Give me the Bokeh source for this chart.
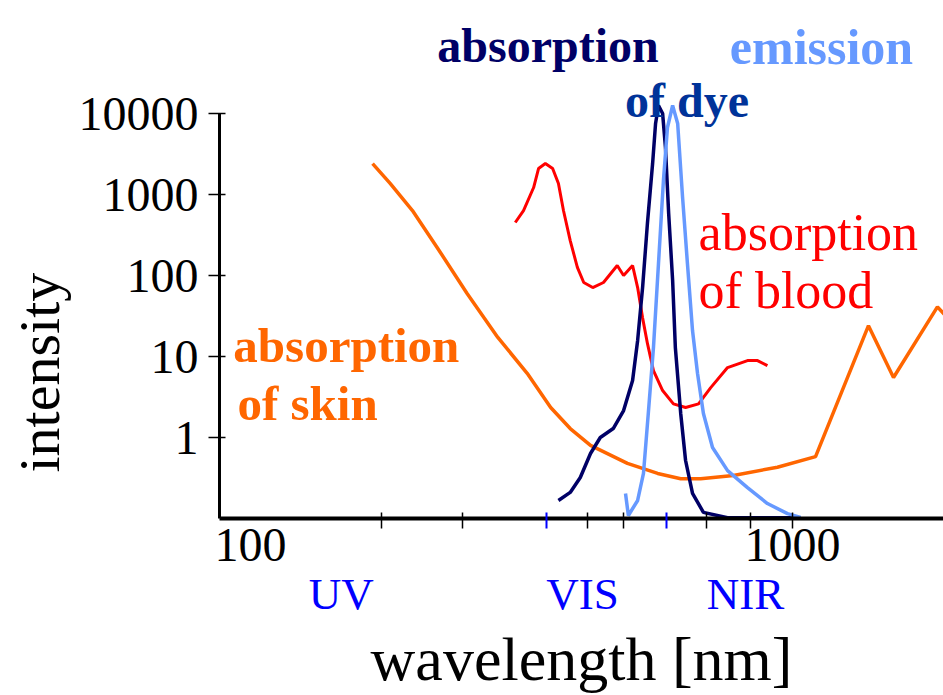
from bokeh.core.properties import value
from bokeh.embed import file_html
from bokeh.models import FixedTicker, LogAxis, Range1d, Title
from bokeh.plotting import figure
from bokeh.resources import INLINE

# ---- spectra (wavelength in nm, intensity on a log scale) ----
skin_wl = [168, 181, 199, 221, 251, 286, 324, 358, 389, 424, 496, 564, 622,
           677, 778, 938, 1103, 1381, 1536, 1851, 1950]
skin_abs = [2400, 1370, 634, 222, 60, 17.2, 6.2, 2.35, 1.29, 0.80, 0.48, 0.36,
            0.31, 0.31, 0.34, 0.43, 0.58, 24, 5.5, 41, 28]

blood_wl = [308, 319, 333, 340, 350, 361, 370, 378, 389, 401, 412, 428, 448,
            475, 488, 507, 518, 529, 540, 554, 576, 603, 635, 671, 706, 759,
            826, 862, 899]
blood_abs = [451, 634, 1220, 2094, 2413, 2094, 1367, 634, 270, 126, 82, 71, 82,
             133, 100, 133, 71, 30, 14.5, 6.7, 3.8, 2.6, 2.35, 2.6, 4.1, 7.3,
             8.9, 8.9, 7.7]

dye_abs_wl = [370, 389, 406, 424, 442, 467, 488, 507, 518, 529, 540, 552, 559,
              566, 576, 583, 591, 601, 608, 622, 635, 654, 685, 759, 1035]
dye_abs = [0.167, 0.21, 0.321, 0.634, 1.0, 1.29, 2.15, 5.06, 15.8, 71, 439,
           2413, 7530, 12550, 10000, 3800, 582, 87, 12.9, 1.98, 0.52, 0.204,
           0.119, 0.102, 0.102]

dye_em_wl = [492, 498, 518, 531, 542, 554, 566, 578, 588, 601, 614, 627, 640,
             654, 668, 685, 712, 759, 826, 899, 979, 1035]
dye_em = [0.204, 0.109, 0.167, 0.36, 1.98, 12.9, 141, 1489, 6720, 12550, 7530,
          918, 141, 20.9, 6.2, 1.98, 0.753, 0.39, 0.24, 0.153, 0.115, 0.103]

# ---- axis ticks ----
x_tick_values = [100, 1000]
x_tick_labels = ["100", "1000"]
x_minor_marks = [174.5, 246, 419, 488, 694, 837, 1000]
x_band_marks = [352, 586]          # edges of the visible band
y_tick_values = [1, 10, 100, 1000, 10000]
y_tick_labels = ["1", "10", "100", "1000", "10000"]

band_names = ["UV", "VIS", "NIR"]
band_centers = [147, 410, 819]

SERIF = "Liberation Serif"
ORANGE = "#FF6600"
RED = "#FF0000"
NAVY = "#000066"
DYE_BLUE = "#003399"
LIGHT_BLUE = "#6699FF"
BAND_BLUE = "#0000FF"

p = figure(width=943, height=695,
           x_axis_type="log", y_axis_type="log",
           x_range=Range1d(87.68, 1899.4), y_range=Range1d(0.1, 248400),
           output_backend="svg", toolbar_location=None,
           min_border_left=219, min_border_right=0,
           min_border_top=0, min_border_bottom=177)
p.outline_line_color = None
p.grid.grid_line_color = None
p.background_fill_color = "white"
p.border_fill_color = "white"

# ---- curves ----
p.line(skin_wl, skin_abs, line_color=ORANGE, line_width=3.5)
p.line(blood_wl, blood_abs, line_color=RED, line_width=3)
p.line(dye_abs_wl, dye_abs, line_color=NAVY, line_width=3.5)
p.line(dye_em_wl, dye_em, line_color=LIGHT_BLUE, line_width=3.5)

# ---- curve captions ----
def caption(x, y, text, color, size, bold=True, align="left"):
    p.text(x=[x], y=[y], text=[text], text_color=color,
           text_font=value(SERIF), text_font_size=size,
           text_font_style="bold" if bold else "normal",
           text_align=align, text_baseline="alphabetic")

caption(354, 69100, "absorption", NAVY, "48px", align="center")
caption(639, 14470, "of dye", DYE_BLUE, "48px", align="center")
caption(1131, 67100, "emission", LIGHT_BLUE, "50px", align="center")
caption(93, 13.7, "absorption", ORANGE, "49px")
caption(94.6, 2.63, "of skin", ORANGE, "49px")
caption(671, 340, "absorption", RED, "52px", bold=False)
caption(671, 65.3, "of blood", RED, "52px", bold=False)

# ---- x axis: line with tick marks ----
xa = p.xaxis[0]
xa.ticker = FixedTicker(ticks=x_band_marks, minor_ticks=x_minor_marks)
xa.major_label_overrides = {v: "" for v in x_band_marks}
xa.major_label_text_font_size = "1px"
xa.major_label_standoff = 0
xa.axis_line_width = 4
xa.axis_line_color = "black"
xa.major_tick_line_color = BAND_BLUE
xa.major_tick_line_width = 2
xa.major_tick_in = 6
xa.major_tick_out = 10
xa.minor_tick_line_color = "black"
xa.minor_tick_line_width = 1.5
xa.minor_tick_in = 6
xa.minor_tick_out = 10

def label_axis(ticks, labels, color, size, standoff, **kw):
    return LogAxis(ticker=FixedTicker(ticks=ticks, minor_ticks=[]),
                   major_label_overrides=dict(zip(ticks, labels)),
                   axis_line_color=None, major_tick_line_color=None,
                   minor_tick_line_color=None,
                   major_tick_in=0, major_tick_out=0,
                   minor_tick_in=0, minor_tick_out=0,
                   major_label_standoff=standoff,
                   major_label_text_font=SERIF, major_label_text_font_size=size,
                   major_label_text_color=color, **kw)

# ---- x axis: decade labels ----
p.add_layout(label_axis(x_tick_values, x_tick_labels, "black", "48px", 0), "below")

# ---- x axis: spectral bands and title ----
p.add_layout(label_axis(band_centers, band_names, BAND_BLUE, "45px", 5,
                        axis_label="wavelength [nm]", axis_label_text_font=SERIF,
                        axis_label_text_font_size="62px",
                        axis_label_text_font_style="normal",
                        axis_label_text_color="black", axis_label_standoff=3),
             "below")

# ---- y axis ----
ya = p.yaxis[0]
ya.ticker = FixedTicker(ticks=y_tick_values, minor_ticks=[])
ya.major_label_overrides = dict(zip(y_tick_values, y_tick_labels))
ya.bounds = (0.1, 10000)
ya.axis_line_width = 3
ya.axis_line_color = "black"
ya.major_tick_line_color = "black"
ya.major_tick_line_width = 1.5
ya.major_tick_in = 6
ya.major_tick_out = 11
ya.minor_tick_line_color = None
ya.major_label_standoff = 10
ya.major_label_text_font = SERIF
ya.major_label_text_font_size = "48px"
ya.major_label_text_color = "black"

p.add_layout(Title(text="intensity", align="left", offset=46, standoff=8,
                   text_font=SERIF, text_font_size="58px",
                   text_font_style="normal", text_color="black"), "left")

open("out.html", "w").write(file_html(p, INLINE))
